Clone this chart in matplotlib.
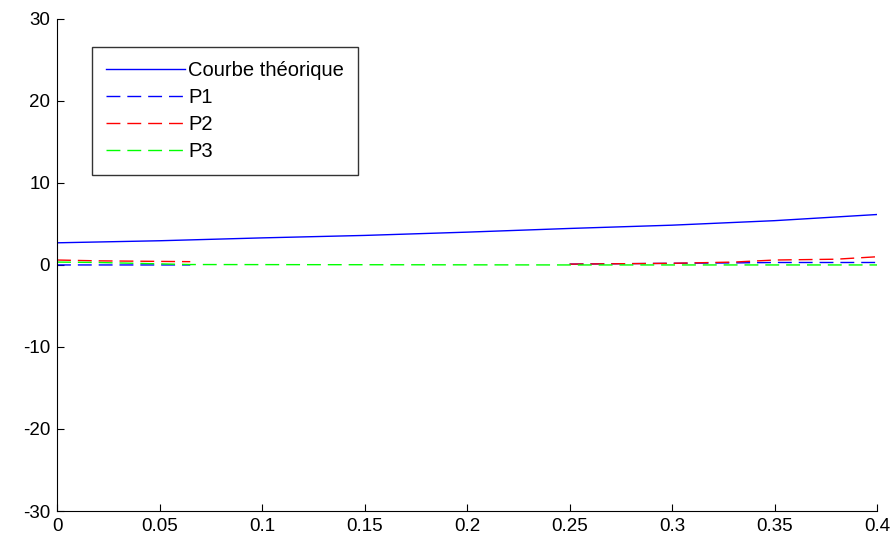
import numpy as np
import matplotlib.pyplot as plt

plt.rcParams['font.family'] = ['Liberation Sans', 'DejaVu Sans']
plt.rcParams['axes.unicode_minus'] = False

# theoretical curve
X_THEO = [0, 0.05, 0.1, 0.15, 0.2, 0.25, 0.3, 0.35, 0.4]
Y_THEO = [2.7, 2.95, 3.3, 3.6, 4.0, 4.45, 4.85, 5.4, 6.15]

# measured points (nan = gap)
P1_X = [0, 0.065, np.nan, 0.25, 0.3, 0.33, 0.35, 0.4]
P1_Y = [0.0, 0.0, np.nan, 0.1, 0.2, 0.25, 0.3, 0.3]
P2_X = [0, 0.02, 0.065, np.nan, 0.25, 0.3, 0.33, 0.35, 0.38, 0.4]
P2_Y = [0.6, 0.5, 0.4, np.nan, 0.1, 0.2, 0.35, 0.6, 0.7, 1.0]
P3_X = [0, 0.02, 0.065, 0.25, 0.33, 0.4]
P3_Y = [0.35, 0.3, 0.05, 0.0, 0.0, 0.0]

XTICKS = [0, 0.05, 0.1, 0.15, 0.2, 0.25, 0.3, 0.35, 0.4]
XTICKLABELS = ["0", "0.05", "0.1", "0.15", "0.2", "0.25", "0.3", "0.35", "0.4"]
YTICKS = [-30, -20, -10, 0, 10, 20, 30]

fig = plt.figure(figsize=(8.95, 5.4), dpi=100)
ax = fig.add_axes([0.0637, 0.0537, 0.9163, 0.9113])

dash = (0, (10, 5))
ax.plot(X_THEO, Y_THEO, color='#0000ff', lw=1.0, label='Courbe théorique')
ax.plot(P1_X, P1_Y, color='#0000ff', lw=1.0, linestyle=dash, label='P1')
ax.plot(P2_X, P2_Y, color='#ff0000', lw=1.0, linestyle=dash, label='P2')
ax.plot(P3_X, P3_Y, color='#00ff00', lw=1.0, linestyle=dash, label='P3')

ax.set_xlim(0, 0.4)
ax.set_ylim(-30, 30)
ax.set_xticks(XTICKS)
ax.set_xticklabels(XTICKLABELS)
ax.set_yticks(YTICKS)
ax.spines['top'].set_visible(False)
ax.spines['right'].set_visible(False)
ax.tick_params(direction='in', length=5, labelsize=13.5, colors='black', pad=5)

leg = ax.legend(loc='upper left', bbox_to_anchor=(0.043, 0.943), borderaxespad=0,
                fancybox=False, edgecolor='black', fontsize=14.5, handlelength=3.9,
                labelspacing=0.4, handletextpad=0.15, borderpad=0.7)
leg.get_frame().set_linewidth(1.0)

fig.savefig("out.png", dpi=100)
